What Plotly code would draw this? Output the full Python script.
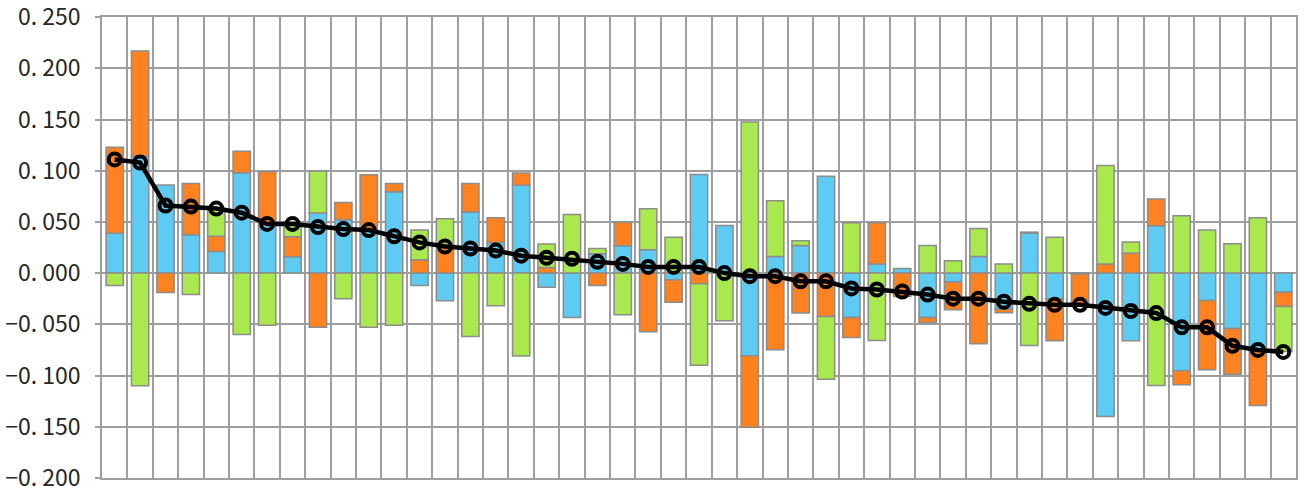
import plotly.graph_objects as go

categories = list(range(1, 48))

blue = [0.039, 0.114, 0.086, 0.0375, 0.021, 0.098, 0.049, 0.016, 0.0586, 0.052,
        0.041, 0.0795, -0.012, -0.027, 0.0596, 0.030, 0.0857, -0.0137, -0.0433, 0.019,
        0.0267, 0.0228, -0.0065, 0.0964, 0.0466, -0.0808, 0.0163, 0.027, 0.0945, -0.0433,
        0.0088, 0.0046, -0.0433, -0.0088, 0.0163, -0.0352, 0.039, -0.0254, -0.001, -0.140,
        -0.0661, 0.0463, -0.0954, -0.0267, -0.054, -0.076, -0.0186]

orange = [0.084, 0.103, -0.019, 0.050, 0.015, 0.021, 0.050, 0.0195, -0.053, 0.017,
          0.055, 0.008, 0.013, 0.028, 0.028, 0.024, 0.012, 0.0055, None, -0.012,
          0.023, -0.0573, -0.022, -0.0104, None, -0.0697, -0.0749, -0.039, -0.0423, -0.0196,
          0.0404, -0.0228, -0.0049, -0.027, -0.069, -0.0035, 0.001, -0.0407, -0.030, 0.0088,
          0.0195, 0.026, -0.0136, -0.0678, -0.0447, -0.0533, -0.014]

green = [-0.012, -0.110, None, -0.021, 0.027, -0.060, -0.051, 0.012, 0.041, -0.025,
         -0.053, -0.051, 0.029, 0.025, -0.062, -0.032, -0.081, 0.023, 0.0573, 0.005,
         -0.0407, 0.040, 0.035, -0.0795, -0.0466, 0.1476, 0.0544, 0.0046, -0.0613, 0.0492,
         -0.0658, None, 0.027, 0.012, 0.0273, 0.0088, -0.0707, 0.0349, None, 0.0964,
         0.0108, -0.1098, 0.056, 0.042, 0.0287, 0.054, -0.044]

total = [0.111, 0.108, 0.066, 0.065, 0.063, 0.059, 0.048, 0.048, 0.045, 0.043,
         0.042, 0.036, 0.030, 0.026, 0.024, 0.022, 0.017, 0.015, 0.014, 0.011,
         0.009, 0.006, 0.006, 0.006, 0.000, -0.003, -0.003, -0.008, -0.008, -0.015,
         -0.016, -0.018, -0.021, -0.025, -0.025, -0.028, -0.030, -0.031, -0.031, -0.034,
         -0.037, -0.039, -0.053, -0.053, -0.071, -0.075, -0.077]

tick_vals = [-0.2, -0.15, -0.1, -0.05, 0.0, 0.05, 0.1, 0.15, 0.2, 0.25]
tick_text = ["−0. 200", "−0. 150", "−0. 100", "−0. 050", "0. 000",
             "0. 050", "0. 100", "0. 150", "0. 200", "0. 250"]

GRID = "#9e9e9e"
OUTLINE = "#8c8c8c"

fig = go.Figure()
for vals, col in [(blue, "#5dcbf2"), (orange, "#ff8221"), (green, "#a9e94d")]:
    fig.add_trace(go.Bar(x=categories, y=vals, marker=dict(color=col, line=dict(color=OUTLINE, width=1.5))))

fig.add_trace(go.Scatter(
    x=categories, y=total, mode="lines+markers",
    line=dict(color="black", width=4.5),
    marker=dict(symbol="circle-open", size=12, color="black", line=dict(width=4)),
    cliponaxis=False,
))

fig.update_layout(
    width=1310, height=486,
    margin=dict(l=102, r=14, t=17, b=8),
    barmode="relative", bargap=0.32,
    showlegend=False,
    plot_bgcolor="white", paper_bgcolor="white",
    font=dict(family="Noto Sans CJK JP", size=23, color="#262626"),
)
fig.update_xaxes(
    range=[0.5, 47.5], tickmode="linear", tick0=0.5, dtick=1,
    showticklabels=False, showgrid=True, gridcolor=GRID, gridwidth=1.5,
    zeroline=False, showline=True, linecolor=GRID, linewidth=1.5, mirror=True,
)
fig.update_yaxes(
    range=[-0.2001, 0.2501], tickmode="array", tickvals=tick_vals, ticktext=tick_text,
    ticks="outside", ticklen=5, tickcolor=GRID, tickwidth=1.5,
    showgrid=True, gridcolor=GRID, gridwidth=1.5, zeroline=False,
    showline=True, linecolor=GRID, linewidth=1.5, mirror=True,
    ticklabelstandoff=10, automargin=False, ticklabeloverflow="allow",
)

fig.write_html(
    "out.html",
    config={"displayModeBar": False},
    post_script="document.body.style.margin='0';document.body.style.overflow='hidden';",
)
